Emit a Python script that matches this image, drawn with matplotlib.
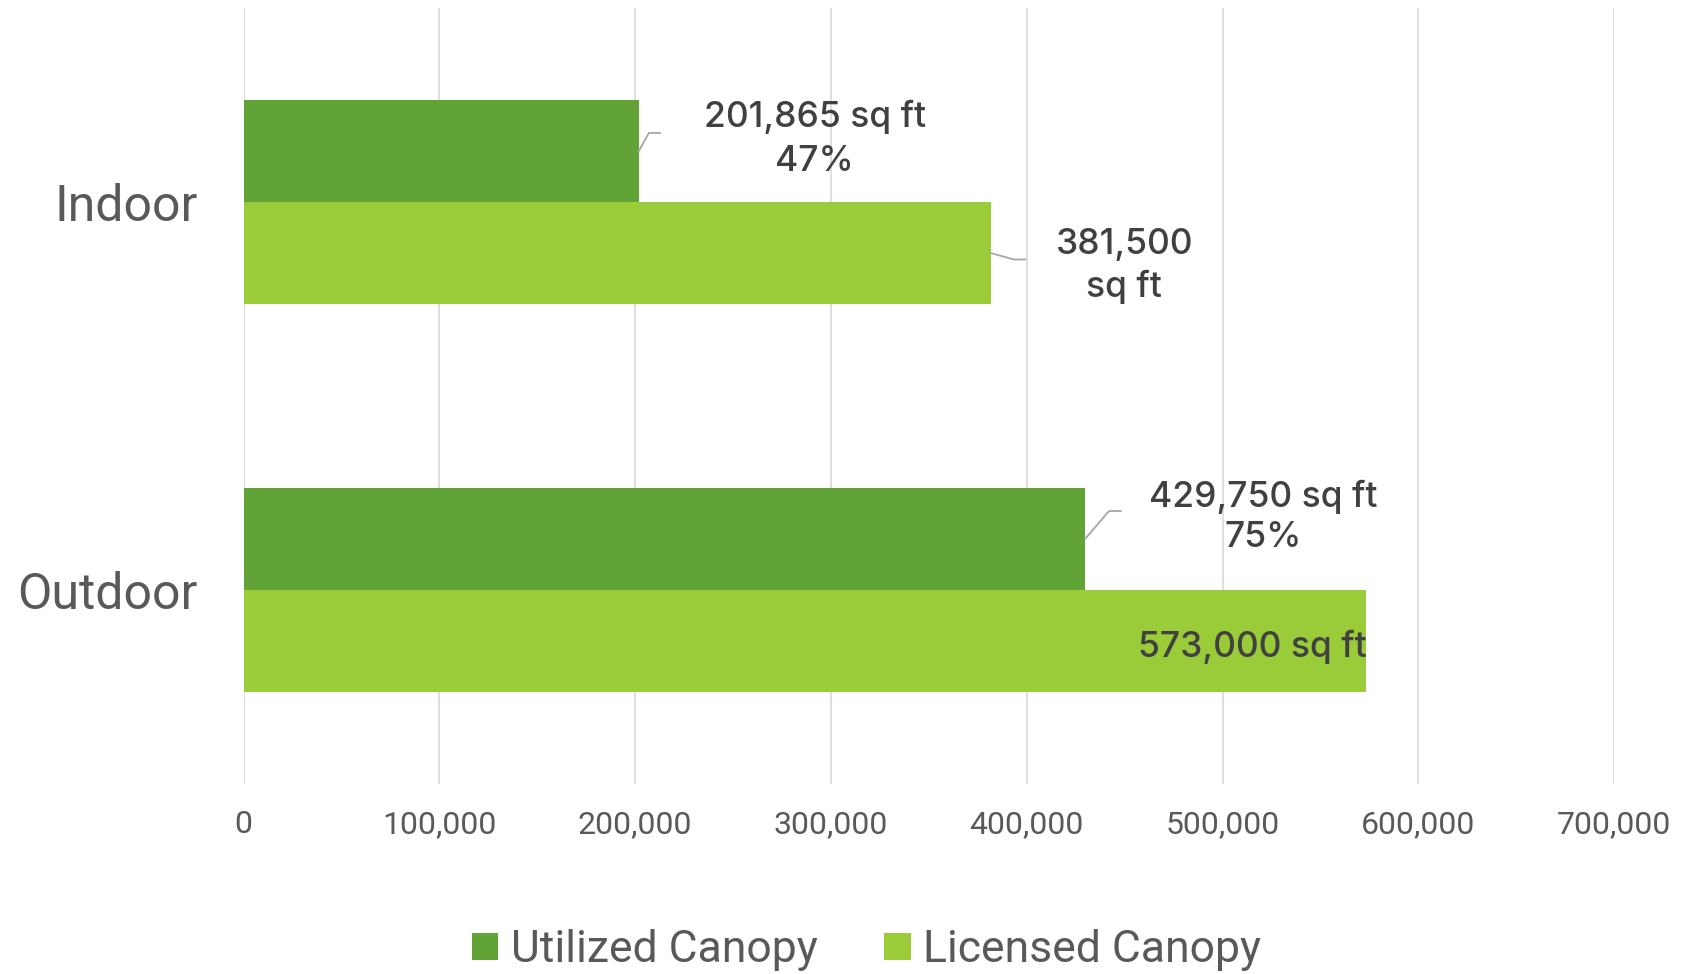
import numpy as np
import matplotlib
matplotlib.use("Agg")
import matplotlib.pyplot as plt
from matplotlib.lines import Line2D
from matplotlib.patches import Patch
import matplotlib.transforms as mtransforms

# ---- data ----
categories = ["Indoor", "Outdoor"]
series_names = ["Utilized Canopy", "Licensed Canopy"]
utilized = [201865, 429750]
licensed = [381500, 573000]
pct_labels = ["47%", "75%"]
x_ticks = [0, 100000, 200000, 300000, 400000, 500000, 600000, 700000]

# ---- style ----
C_UTIL = "#62A338"
C_LIC = "#9ACC3A"
C_GRID = "#D9D9D9"
C_AXTXT = "#595959"
C_LBL = "#404040"
C_LEAD = "#A6A6A6"
FONT_MAIN = ["Roboto", "DejaVu Sans"]
FONT_LBL = ["Inter", "Roboto", "DejaVu Sans"]

W, H, DPI = 1688, 974, 100
fig = plt.figure(figsize=(W / DPI, H / DPI), dpi=DPI)
ax = fig.add_axes([243.6 / W, 1 - 784 / H, (1614.2 - 243.6) / W, (784 - 8) / H])

ypos = np.arange(len(categories))[::-1].astype(float)
h = 0.263
ax.barh(ypos + h / 2, utilized, height=h, color=C_UTIL, zorder=2)
ax.barh(ypos - h / 2, licensed, height=h, color=C_LIC, zorder=2)

ax.set_xlim(0, 700000)
ax.set_ylim(-0.5, 1.5)
ax.set_xticks(x_ticks, [f"{v:,}" for v in x_ticks])
ax.set_yticks(ypos, categories)
ax.xaxis.grid(True, color=C_GRID, lw=1.2)
ax.set_axisbelow(True)
for s in ax.spines.values():
    s.set_visible(False)
ax.tick_params(axis="both", length=0)
ax.tick_params(axis="x", pad=19, labelsize=23, labelcolor=C_AXTXT)
ax.tick_params(axis="y", pad=33, labelsize=36, labelcolor=C_AXTXT)
for t in ax.get_xticklabels() + ax.get_yticklabels():
    t.set_family(FONT_MAIN)

fig.canvas.draw()

def lead(val, yc, pts):
    bx, by = ax.transData.transform((val, yc))
    xs = [bx + dx for dx, dy in pts]
    ys = [by - dy for dx, dy in pts]
    fig.add_artist(Line2D(xs, ys, transform=mtransforms.IdentityTransform(),
                          color=C_LEAD, lw=1.3, zorder=5))

def label(val, yc, lines, dx, dys, ha="center"):
    for txt, dy in zip(lines, dys):
        ax.annotate(txt, xy=(val, yc), xytext=(dx, -dy), textcoords="offset pixels",
                    ha=ha, va="baseline", fontsize=25.5, color=C_LBL, fontweight="medium",
                    family=FONT_LBL, zorder=6, annotation_clip=False)

# Indoor utilized
yc = ypos[0] + h / 2
lead(utilized[0], yc, [(0, 0), (10, -18), (21, -18)])
label(utilized[0], yc, [f"{utilized[0]:,} sq ft", pct_labels[0]], 176, [-23.7, 19.7])
# Indoor licensed
yc = ypos[0] - h / 2
lead(licensed[0], yc, [(0, 0), (23.6, 6.5), (34.8, 6.5)])
label(licensed[0], yc, [f"{licensed[0]:,}", "sq ft"], 133.6, [0.8, 43.5])
# Outdoor utilized
yc = ypos[1] + h / 2
lead(utilized[1], yc, [(0, 0), (24, -28), (35.7, -28)])
label(utilized[1], yc, [f"{utilized[1]:,} sq ft", pct_labels[1]], 178.5, [-32.3, 8.3])
# Outdoor licensed (inside end)
yc = ypos[1] - h / 2
label(licensed[1], yc, [f"{licensed[1]:,} sq ft"], 1, [15.7], ha="right")

handles = [Patch(facecolor=C_UTIL, edgecolor="none"), Patch(facecolor=C_LIC, edgecolor="none")]
leg = fig.legend(handles, series_names, loc="center", bbox_to_anchor=(866.5 / W, 1 - 950 / H),
                 ncol=2, frameon=False, prop={"family": FONT_MAIN, "size": 32},
                 handlelength=0.6, handleheight=0.56, handletextpad=0.28, columnspacing=1.5,
                 labelcolor=C_AXTXT)

fig.savefig("out.png", dpi=DPI)
